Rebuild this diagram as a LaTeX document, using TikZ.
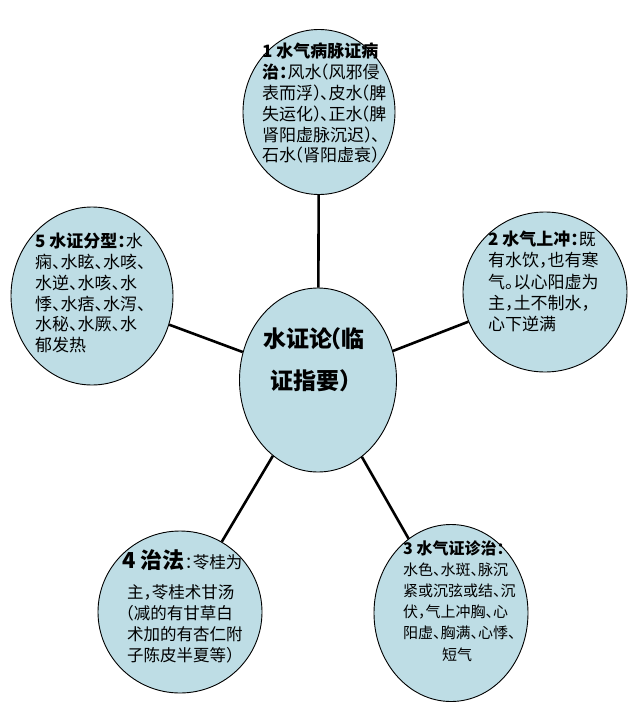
\documentclass[tikz,border=0pt]{standalone}
\usepackage{fontspec}
\setmainfont{Noto Sans CJK SC}
\usetikzlibrary{shapes.geometric}
\definecolor{fillblue}{RGB}{190,221,229}
\newcommand{\lp}{\makebox[0.4em][r]{（}}
\newcommand{\rp}{\makebox[0.4em][l]{）}}
\newcommand{\dn}{\makebox[0.5em][l]{、}}
\newcommand{\cm}{\makebox[0.5em][l]{，}}
\newcommand{\co}{\makebox[0.5em][l]{：}}
\newcommand{\pd}{\makebox[0.5em][l]{。}}
\tikzset{
  bubble/.style={ellipse, draw=black, line width=0.9pt, fill=fillblue, inner sep=0pt},
  txt/.style={inner sep=0pt, align=left, anchor=north west, font=\fontsize{17}{20.8}\selectfont},
  conn/.style={line width=2.6pt, black}
}
\begin{document}
\begin{tikzpicture}[x=1pt,y=-1pt]
\useasboundingbox (0,0) rectangle (640,715);
\fill[white] (0,0) rectangle (640,715);
% ellipses
\node[bubble, minimum width=152pt, minimum height=165pt] (top) at (319,112) {};
\node[bubble, minimum width=164pt, minimum height=160pt] (right) at (545,292) {};
\node[bubble, minimum width=162pt, minimum height=178pt] (left) at (92,296) {};
\node[bubble, minimum width=154pt, minimum height=177pt] (bright) at (451,613) {};
\node[bubble, minimum width=164pt, minimum height=162pt] (bleft) at (180,612) {};
\node[bubble, minimum width=157pt, minimum height=184pt] (center) at (318,380) {};
% connectors
\draw[conn] (center) -- (top);
\draw[conn] (center) -- (right);
\draw[conn] (center) -- (left);
\draw[conn] (center) -- (bright);
\draw[conn] (center) -- (bleft);
% texts
\node[txt] (ttop) at (262,43) {\textbf{1 水气病脉证病}\\\textbf{治\co}风水\lp 风邪侵\\表而浮\rp\dn 皮水\lp 脾\\失运化\rp\dn 正水\lp 脾\\肾阳虚脉沉迟\rp\dn\\石水\lp 肾阳虚衰\rp};
\node[txt, font=\fontsize{17}{21.2}\selectfont] (tright) at (488,231) {\textbf{2 水气上冲\co}既\\有水饮\cm 也有寒\\气\pd 以心阳虚为\\主\cm 土不制水\cm\\心下逆满};
\node[txt] (tleft) at (35,233) {\textbf{5 水证分型\co}水\\痫\dn 水眩\dn 水咳\dn\\水逆\dn 水咳\dn 水\\悸\dn 水痞\dn 水泻\dn\\水秘\dn 水厥\dn 水\\郁发热};
\node[txt, font=\fontsize{15}{21.2}\selectfont] (tbright) at (403,540) {\textbf{\fontsize{16}{21.2}\selectfont 3 水气证诊治\co}\\水色\dn 水斑\dn 脉沉\\紧或沉弦或结\dn 沉\\伏\cm 气上冲胸\dn 心\\阳虚\dn 胸满\dn 心悸\dn\\\hspace*{39pt}短气};
\node[txt, font=\fontsize{16.5}{21}\selectfont] (tbleft) at (122,549) {\textbf{\fontsize{22}{21}\selectfont 4 治法}\co 苓桂为\\[9pt]\hspace*{5pt}主\cm 苓桂术甘汤\\\hspace*{5pt}\lp 减的有甘草白\\\hspace*{5pt}术加的有杏仁附\\\hspace*{5pt}子陈皮半夏等\rp};
\node[txt, font=\fontsize{23}{42}\selectfont\bfseries] (tcenter) at (263,327) {水证论\lp 临\\\hspace*{7pt}证指要\rp};
\end{tikzpicture}
\end{document}
